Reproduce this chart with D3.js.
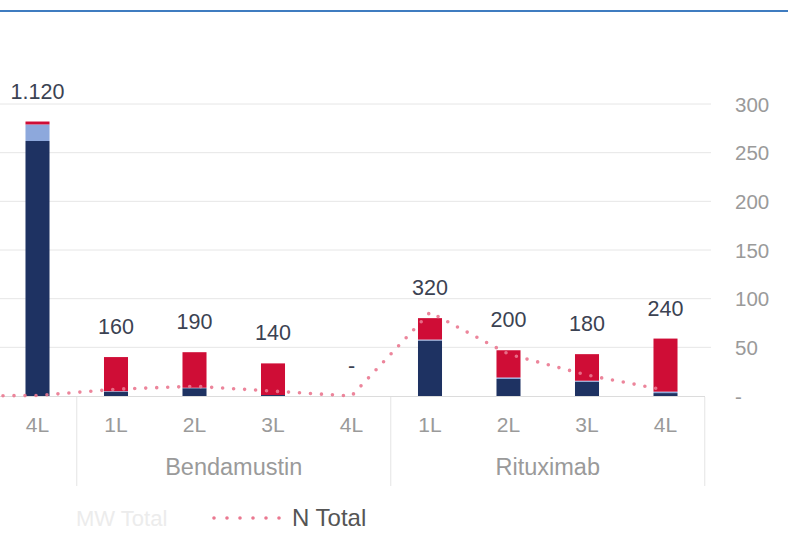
<!DOCTYPE html>
<html>
<head>
<meta charset="utf-8">
<script src="https://cdn.jsdelivr.net/npm/d3@7"></script>
<style>
  html, body { margin: 0; padding: 0; background: #fff; }
  svg { display: block; }
</style>
</head>
<body>
<svg id="chart" width="788" height="557"></svg>
<script>
// ---- data ----
const lineLabels = ["3L", "4L", "1L", "2L", "3L", "4L", "1L", "2L", "3L", "4L"];
const groupNames = ["", "", "Bendamustin", "Bendamustin", "Bendamustin", "Bendamustin", "Rituximab", "Rituximab", "Rituximab", "Rituximab"];
const seriesNavy = [0, 262, 4.5, 8, 1, 0, 57, 17.5, 14.7, 3];
const seriesLightBlue = [0, 17, 0.5, 0.5, 0, 0, 1, 1.5, 1, 1.5];
const seriesRed = [0, 3, 35, 36.5, 32.5, 0, 22, 28, 27.3, 54.5];
const totalLabels = ["", "1.120", "160", "190", "140", "-", "320", "200", "180", "240"];
const nTotal = [0, 0.5, 7, 10, 5, 0, 86, 43, 21.5, 6];
const yTicks = [0, 50, 100, 150, 200, 250, 300];

const colors = { navy: "#1e3262", light: "#8da8dc", red: "#cf0d36", line: "#ea7890" };
const FONT = "Liberation Sans, Arial, sans-serif";

const svg = d3.select("#chart");
const idx = d3.range(lineLabels.length);

const x = d3.scaleBand().domain(idx).range([-80.25, 704.75]).paddingInner(0.694).paddingOuter(0.347);
const y = d3.scaleLinear().domain([0, 300]).range([396, 104]);
const cx = i => x(i) + x.bandwidth() / 2;

// top blue rule
svg.append("line").attr("x1", 0).attr("x2", 788).attr("y1", 11).attr("y2", 11)
  .attr("stroke", "#3f7cc0").attr("stroke-width", 2);

// gridlines
svg.append("g").selectAll("line").data(yTicks.filter(t => t > 0)).join("line")
  .attr("x1", 0).attr("x2", 711)
  .attr("y1", d => y(d)).attr("y2", d => y(d))
  .attr("stroke", "#e6e6e6").attr("stroke-width", 1);

// right axis
const yAxis = d3.axisRight(y).tickValues(yTicks).tickSize(0).tickPadding(0)
  .tickFormat(d => d === 0 ? "-" : d3.format("d")(d));
const ag = svg.append("g").attr("transform", "translate(735,0)").call(yAxis);
ag.select(".domain").remove();
ag.selectAll("text").attr("font-family", FONT)
  .attr("font-size", 20.5).attr("fill", "#9a9a9a").attr("text-anchor", "start").attr("dy", "0.35em");

// stacked bars
const rows = idx.map(i => ({ i, navy: seriesNavy[i], light: seriesLightBlue[i], red: seriesRed[i] }));
const stack = d3.stack().keys(["navy", "light", "red"])(rows);
svg.append("g").selectAll("g").data(stack).join("g")
  .attr("fill", d => colors[d.key])
  .selectAll("rect").data(d => d).join("rect")
  .attr("x", d => x(d.data.i))
  .attr("width", x.bandwidth())
  .attr("y", d => y(d[1]))
  .attr("height", d => Math.max(0, y(d[0]) - y(d[1])));

// x axis baseline
svg.append("line").attr("x1", 0).attr("x2", 705).attr("y1", 396.5).attr("y2", 396.5)
  .attr("stroke", "#dcdcdc");

// N Total dotted line
const line = d3.line().x(i => cx(i)).y(i => y(nTotal[i]));
svg.append("path").datum(idx).attr("d", line)
  .attr("fill", "none").attr("stroke", colors.line).attr("stroke-width", 3.6)
  .attr("stroke-linecap", "round").attr("stroke-dasharray", "0 11").attr("opacity", 0.9);

// total labels above bars
svg.append("g").selectAll("text").data(idx.filter(i => totalLabels[i] !== "")).join("text")
  .attr("x", cx).attr("y", i => y(seriesNavy[i] + seriesLightBlue[i] + seriesRed[i]) - 23)
  .attr("text-anchor", "middle")
  .attr("font-family", FONT).attr("font-size", 21.5)
  .attr("fill", "#3b4252").text(i => totalLabels[i]);

// category labels (only those inside the visible area)
svg.append("g").selectAll("text").data(idx.filter(i => cx(i) > 0)).join("text")
  .attr("x", cx).attr("y", 432).attr("text-anchor", "middle")
  .attr("font-family", FONT)
  .attr("font-size", 21).attr("fill", "#9a9a9a").text(i => lineLabels[i]);

// group separators and labels
const groups = Array.from(d3.group(idx, i => groupNames[i]), ([name, list]) => ({ name, list }));
const boundaries = groups.map(g => x.range()[0] + (g.list[g.list.length - 1] + 1) * x.step());
svg.append("g").selectAll("line").data(boundaries).join("line")
  .attr("x1", d => d).attr("x2", d => d).attr("y1", 397).attr("y2", 486)
  .attr("stroke", "#e4e4e4");
svg.append("g").selectAll("text").data(groups.filter(g => g.name !== "")).join("text")
  .attr("x", g => (cx(g.list[0]) + cx(g.list[g.list.length - 1])) / 2)
  .attr("y", 475).attr("text-anchor", "middle")
  .attr("font-family", FONT)
  .attr("font-size", 23.5).attr("fill", "#9a9a9a").text(g => g.name);

// legend
const lg = svg.append("g");
lg.append("text").attr("x", 76).attr("y", 526)
  .attr("font-family", FONT)
  .attr("font-size", 22).attr("fill", "#ececec").text("MW Total");
lg.append("line").attr("x1", 214).attr("x2", 280).attr("y1", 518).attr("y2", 518)
  .attr("stroke", colors.line).attr("stroke-width", 3.6).attr("stroke-linecap", "round")
  .attr("stroke-dasharray", "0 13");
lg.append("text").attr("x", 292).attr("y", 526)
  .attr("font-family", FONT)
  .attr("font-size", 24).attr("fill", "#555").text("N Total");
</script>
</body>
</html>
